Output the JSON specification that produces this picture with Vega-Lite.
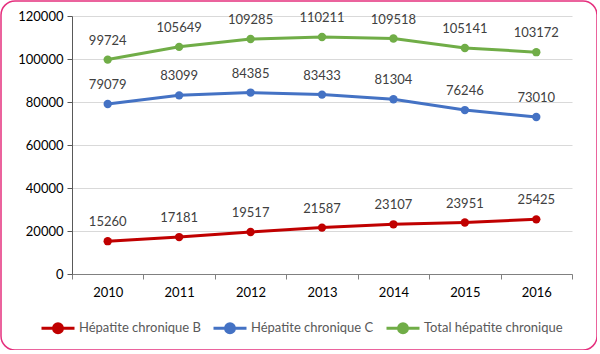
{
  "$schema": "https://vega.github.io/schema/vega-lite/v6.json",
  "width": 596,
  "height": 349,
  "autosize": {"type": "none"},
  "padding": {"left": 1, "top": 1, "right": 0, "bottom": 0},
  "background": "white",
  "config": {
    "font": "Lato",
    "view": {"stroke": "#E5307E", "strokeWidth": 1.5, "cornerRadius": 14, "fill": "white"}
  },
  "data": {
    "values": [
      {"year": "2010", "series": "Hépatite chronique B", "value": 15260},
      {"year": "2011", "series": "Hépatite chronique B", "value": 17181},
      {"year": "2012", "series": "Hépatite chronique B", "value": 19517},
      {"year": "2013", "series": "Hépatite chronique B", "value": 21587},
      {"year": "2014", "series": "Hépatite chronique B", "value": 23107},
      {"year": "2015", "series": "Hépatite chronique B", "value": 23951},
      {"year": "2016", "series": "Hépatite chronique B", "value": 25425},
      {"year": "2010", "series": "Hépatite chronique C", "value": 79079},
      {"year": "2011", "series": "Hépatite chronique C", "value": 83099},
      {"year": "2012", "series": "Hépatite chronique C", "value": 84385},
      {"year": "2013", "series": "Hépatite chronique C", "value": 83433},
      {"year": "2014", "series": "Hépatite chronique C", "value": 81304},
      {"year": "2015", "series": "Hépatite chronique C", "value": 76246},
      {"year": "2016", "series": "Hépatite chronique C", "value": 73010},
      {"year": "2010", "series": "Total hépatite chronique", "value": 99724},
      {"year": "2011", "series": "Total hépatite chronique", "value": 105649},
      {"year": "2012", "series": "Total hépatite chronique", "value": 109285},
      {"year": "2013", "series": "Total hépatite chronique", "value": 110211},
      {"year": "2014", "series": "Total hépatite chronique", "value": 109518},
      {"year": "2015", "series": "Total hépatite chronique", "value": 105141},
      {"year": "2016", "series": "Total hépatite chronique", "value": 103172}
    ]
  },
  "encoding": {
    "x": {
      "field": "year",
      "type": "ordinal",
      "scale": {"type": "band", "range": [71, 571], "paddingInner": 0, "paddingOuter": 0},
      "axis": {
        "title": null,
        "offset": -76,
        "labelAngle": 0,
        "tickBand": "extent",
        "grid": false,
        "domainColor": "#808080",
        "tickColor": "#808080",
        "tickSize": 5,
        "labelFont": "Lato",
        "labelFontSize": 13,
        "labelColor": "#000000",
        "labelPadding": 7
      }
    },
    "y": {
      "field": "value",
      "type": "quantitative",
      "scale": {"domain": [0, 120000], "range": [273, 15], "nice": false},
      "axis": {
        "title": null,
        "offset": -71,
        "values": [0, 20000, 40000, 60000, 80000, 100000, 120000],
        "format": "d",
        "grid": true,
        "gridColor": "#D9D9D9",
        "gridWidth": 1,
        "domainColor": "#595959",
        "tickColor": "#595959",
        "tickSize": 5,
        "labelFont": "Lato",
        "labelFontSize": 13,
        "labelColor": "#000000",
        "labelPadding": 4
      }
    },
    "color": {
      "field": "series",
      "type": "nominal",
      "scale": {
        "domain": ["Hépatite chronique B", "Hépatite chronique C", "Total hépatite chronique"],
        "range": ["#C00000", "#4472C4", "#70AD47"]
      },
      "legend": {
        "title": null,
        "orient": "none",
        "direction": "horizontal",
        "legendX": 39,
        "legendY": 309,
        "symbolType": "M-1,0L1,0M-0.27,0A0.27,0.27,0,1,0,0.27,0A0.27,0.27,0,1,0,-0.27,0Z",
        "symbolSize": 1089,
        "symbolStrokeWidth": 3,
        "labelFont": "Lato",
        "labelFontSize": 13,
        "labelColor": "#595959",
        "labelOffset": 3,
        "columnPadding": 6,
        "encode": {
          "symbols": {"update": {"fill": {"scale": "color", "field": "value"}, "stroke": {"scale": "color", "field": "value"}, "opacity": {"value": 1}}}
        }
      }
    }
  },
  "layer": [
    {"mark": {"type": "line", "strokeWidth": 3}},
    {"mark": {"type": "point", "filled": true, "size": 70, "opacity": 1}},
    {
      "mark": {"type": "text", "dy": -19, "fontSize": 13, "font": "Lato", "color": "#404040"},
      "encoding": {"text": {"field": "value", "type": "quantitative", "format": "d"}, "color": {"value": "#404040"}}
    }
  ]
}
